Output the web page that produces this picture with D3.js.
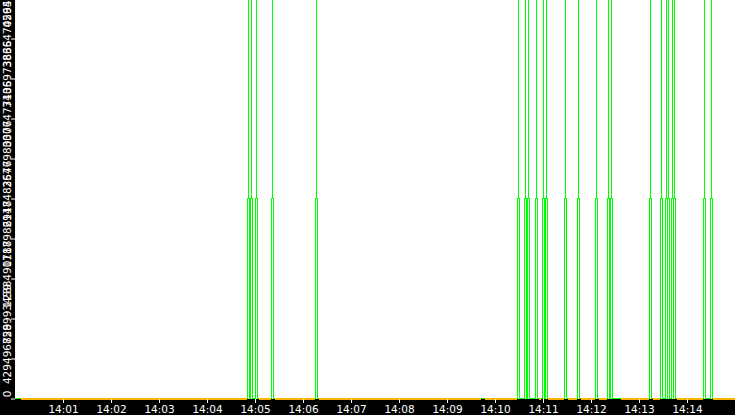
<!DOCTYPE html>
<html>
<head>
<meta charset="utf-8">
<script src="https://cdn.jsdelivr.net/npm/d3@7"></script>
<style>
html, body { margin: 0; padding: 0; background: #000; overflow: hidden; }
svg { display: block; }
</style>
</head>
<body>
<svg id="chart" width="735" height="415"></svg>
<script>
// spike moments of the green series (hh:mm:ss)
var spikeTimes = ["14:04:52", "14:04:56", "14:05:02", "14:05:22", "14:06:17",
    "14:10:29", "14:10:38", "14:10:42", "14:10:52", "14:11:00", "14:11:04",
    "14:11:28", "14:11:44", "14:12:07", "14:12:22", "14:12:26",
    "14:13:14", "14:13:28", "14:13:34", "14:13:37", "14:13:42", "14:13:44",
    "14:14:22", "14:14:30"];
// shape of one spike: milliseconds from the spike, value reached there
var spikeOffsets = [-1250, 0, 0, 1250];
var spikeValues = [2147483647, 4294967295, 2147483647, 0];

// orange series, stretches where it reports 0
var orangeSegments = [["14:00:08", "14:04:50"], ["14:05:05", "14:05:20"], ["14:05:25", "14:06:15"],
    ["14:06:20", "14:09:42"], ["14:09:47", "14:10:27"], ["14:10:55", "14:10:58"],
    ["14:11:06", "14:11:26"], ["14:11:31", "14:11:42"], ["14:11:47", "14:12:05"],
    ["14:12:10", "14:12:20"], ["14:12:37", "14:13:12"], ["14:13:17", "14:13:26"],
    ["14:13:47", "14:14:20"], ["14:14:33", "14:15:00"]];

var yTickValues = [0, 429496729, 858993459, 1288490188, 1717986918, 2147483647,
    2576980377, 3006477106, 3435973836, 3865470565, 4294967295];
var xTickLabels = ["14:01", "14:02", "14:03", "14:04", "14:05", "14:06", "14:07",
    "14:08", "14:09", "14:10", "14:11", "14:12", "14:13", "14:14"];

var
W = 735,
H = 415,
left = 15,
bottom = 399,
parseT = d3.timeParse("%H:%M:%S"),
parseM = d3.timeParse("%H:%M"),
svg = d3.select("#chart");

var x = d3.scaleTime()
    .domain([parseT("14:00:00"), parseT("14:15:00")])
    .range([left, W]);
var y = d3.scaleLinear()
    .domain([0, 4294967295])
    .range([bottom - 0.5, -1.5]);

svg.append("rect").attr("x", 0).attr("y", 0).attr("width", W).attr("height", H).attr("fill", "#000");
svg.append("rect").attr("x", left).attr("y", 0).attr("width", W - left).attr("height", bottom).attr("fill", "#fff");

// green series points
var greenPts = [[parseT("14:00:00"), 0]];
spikeTimes.forEach(function (s) {
    var t = parseT(s);
    spikeOffsets.forEach(function (o, i) {
        greenPts.push([d3.timeMillisecond.offset(t, o), spikeValues[i]]);
    });
});
greenPts.push([parseT("14:15:00"), 0]);

var line = d3.line()
    .x(function (d) { return x(d[0]); })
    .y(function (d) { return y(d[1]); });

svg.append("path")
    .datum(greenPts)
    .attr("d", line.curve(d3.curveStepAfter))
    .attr("fill", "none")
    .attr("stroke", "#00ff00")
    .attr("stroke-width", 1)
    .attr("shape-rendering", "crispEdges");

var segLine = d3.line()
    .x(function (d) { return x(d[0]); })
    .y(function (d) { return y(d[1]); });

svg.selectAll("path.orange")
    .data(orangeSegments)
    .enter().append("path")
    .attr("class", "orange")
    .attr("d", function (s) {
        return segLine([[parseT(s[0]), 0], [parseT(s[1]), 0]]);
    })
    .attr("fill", "none")
    .attr("stroke", "#ffb400")
    .attr("stroke-width", 2)
    .attr("shape-rendering", "crispEdges");

// x axis
var xAxis = svg.append("g")
    .attr("transform", "translate(0," + bottom + ")")
    .call(d3.axisBottom(x)
        .tickValues(xTickLabels.map(parseM))
        .tickFormat(d3.timeFormat("%H:%M"))
        .tickSize(4));
xAxis.select(".domain").remove();
xAxis.selectAll("line").attr("stroke", "#fff");
xAxis.selectAll("text")
    .attr("fill", "#fff")
    .attr("y", 14)
    .attr("dy", 0)
    .style("font", "10.5px 'DejaVu Sans', sans-serif");

// y axis, labels turned up the side
var yAxis = svg.append("g")
    .attr("transform", "translate(" + left + ",0)")
    .call(d3.axisLeft(y)
        .tickValues(yTickValues)
        .tickFormat(d3.format("d"))
        .tickSize(4));
yAxis.select(".domain").remove();
yAxis.selectAll("line").attr("stroke", "#fff");
yAxis.selectAll("text")
    .attr("fill", "#fff")
    .attr("transform", "rotate(-90)")
    .attr("x", 5)
    .attr("y", -4)
    .attr("dy", 0)
    .attr("text-anchor", "middle")
    .style("font", "10.5px 'DejaVu Sans', sans-serif");
</script>
</body>
</html>
